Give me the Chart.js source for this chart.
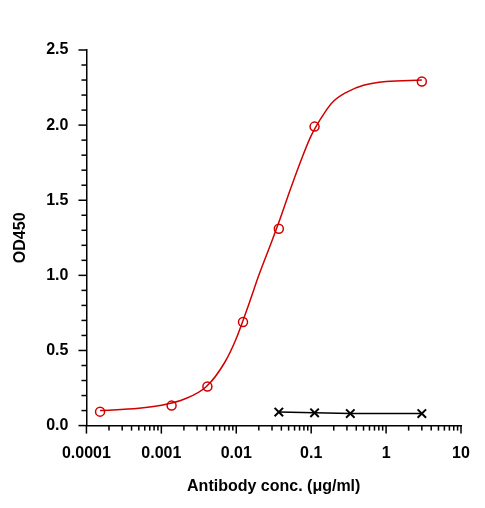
<!DOCTYPE html>
<html><head><script src="https://cdn.jsdelivr.net/npm/chart.js@4"></script>
<style>body{margin:0;background:#fff}#w{width:485px;height:508px}</style></head>
<body><div id="w"><canvas id="c"></canvas></div>
<script>
const redConc=[0.000152,0.00137,0.00412,0.0123,0.037,0.111,3];
const redOD=[0.093,0.133,0.26,0.69,1.31,1.99,2.29];
const blackConc=[0.037,0.111,0.333,3];
const blackOD=[0.09,0.085,0.08,0.08];
const fitConc=[0.000152,0.0005,0.001,0.002,0.004,0.007,0.01,0.015,0.02,0.03,0.04,0.05,0.07,0.1,0.15,0.2,0.3,0.5,1,3];
const fitOD=[0.10,0.115,0.135,0.175,0.26,0.42,0.58,0.82,1.0,1.23,1.40,1.54,1.74,1.93,2.08,2.16,2.22,2.265,2.29,2.30];
const xLabels=['0.0001','0.001','0.01','0.1','1','10'];
const F='"Liberation Sans", Arial, sans-serif';
const tickPlugin={id:'tk',afterDraw(ch){const c=ch.ctx;c.save();c.strokeStyle='#000';c.lineWidth=1.5;
 const x=ch.scales.x,y=ch.scales.y;
 x.ticks.forEach(t=>{const m=Math.abs(Math.log10(t.value)-Math.round(Math.log10(t.value)))<1e-6;const p=x.getPixelForValue(t.value);c.beginPath();c.moveTo(p,x.top);c.lineTo(p,x.top+(m?8:5));c.stroke();});
 y.ticks.forEach(t=>{const m=Math.abs(t.value*2-Math.round(t.value*2))<1e-6;const p=y.getPixelForValue(t.value);c.beginPath();c.moveTo(y.right,p);c.lineTo(y.right-(m?8:5),p);c.stroke();});
 c.restore();}};
new Chart(document.getElementById('c'),{type:'line',
data:{datasets:[
{data:fitConc.map((v,i)=>({x:v,y:fitOD[i]})),borderColor:'#d00000',borderWidth:1.5,pointRadius:0,cubicInterpolationMode:'monotone'},
{data:redConc.map((v,i)=>({x:v,y:redOD[i]})),showLine:false,pointStyle:'circle',pointRadius:4.5,borderColor:'#d00000',borderWidth:1.5,backgroundColor:'rgba(0,0,0,0)'},
{data:blackConc.map((v,i)=>({x:v,y:blackOD[i]})),borderColor:'#000',borderWidth:1.5,pointStyle:'crossRot',pointRadius:6,pointBorderWidth:2,backgroundColor:'#000'}
]},
options:{responsive:true,maintainAspectRatio:false,animation:false,
layout:{padding:{left:7,right:24,top:50,bottom:8}},
plugins:{legend:{display:false},tooltip:{enabled:false}},
scales:{
x:{type:'logarithmic',min:0.0001,max:10,
 border:{color:'#000',width:1.5},grid:{display:false},
 afterBuildTicks(s){const t=[];for(let e=-4;e<=1;e++)for(let k=1;k<=9;k++){const v=k*Math.pow(10,e);if(v<=10.0001)t.push({value:v});}s.ticks=t;},
 ticks:{autoSkip:false,maxRotation:0,color:'#000',padding:10,font:{family:F,size:16,weight:'bold'},callback(v){const l=Math.log10(v);return Math.abs(l-Math.round(l))<1e-6?xLabels[Math.round(l)+4]:'';}},
 title:{display:true,text:'Antibody conc. (μg/ml)',color:'#000',font:{family:F,size:16,weight:'bold'},padding:{top:4}}},
y:{min:0,max:2.5,
 border:{color:'#000',width:1.5},grid:{display:false},
 afterBuildTicks(s){const t=[];for(let i=0;i<=25;i++)t.push({value:i/10});s.ticks=t;},
 ticks:{autoSkip:false,color:'#000',padding:10,font:{family:F,size:16,weight:'bold'},callback(v){return Math.abs(v*2-Math.round(v*2))<1e-6?v.toFixed(1):'';}},
 title:{display:true,text:'OD450',color:'#000',font:{family:F,size:16,weight:'bold'},padding:{bottom:6}}}
}},plugins:[tickPlugin]});
</script></body></html>
